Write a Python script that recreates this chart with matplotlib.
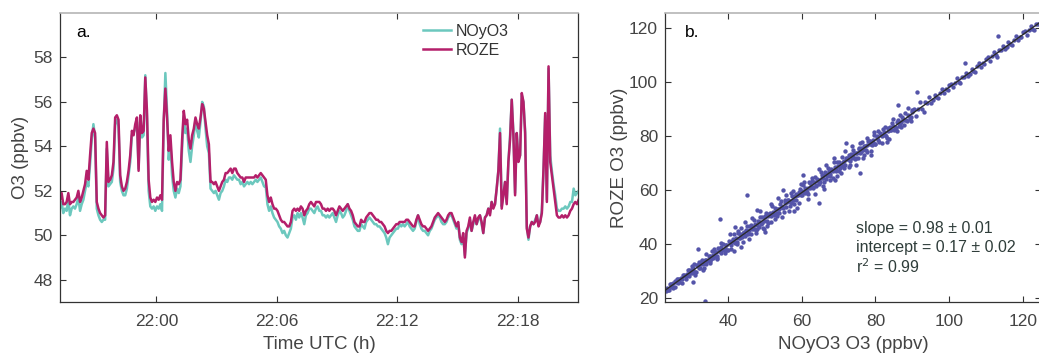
import matplotlib
matplotlib.use('Agg')
import matplotlib.pyplot as plt
import numpy as np

plt.rcParams['font.family'] = ['Liberation Sans', 'DejaVu Sans']

# a. time series, one sample every 5 s from 21:55:12 UTC (minutes relative to 22:00)
t_start_min = -4.8
dt_sec = 5

roze = [51.6, 51.9, 51.4, 51.4, 51.5, 51.9, 51.4, 51.5, 51.5, 51.6,
        51.7, 52.0, 51.5, 51.7, 52.0, 52.3, 52.9, 52.5, 53.6, 54.6,
        54.8, 54.6, 51.5, 51.2, 51.0, 50.9, 50.8, 50.9, 54.2, 52.4,
        52.5, 52.7, 53.3, 55.3, 55.4, 55.2, 52.7, 52.2, 52.0, 52.1,
        52.4, 52.9, 53.6, 54.7, 54.5, 55.0, 55.3, 52.9, 55.4, 54.6,
        54.7, 57.1, 55.6, 52.5, 51.7, 51.5, 51.6, 51.5, 51.7, 51.6,
        51.8, 51.6, 55.2, 56.6, 55.3, 53.8, 54.5, 53.3, 52.4, 52.0,
        52.4, 52.3, 52.5, 54.3, 55.6, 55.0, 55.2, 54.3, 53.9, 54.5,
        54.8, 55.3, 55.0, 54.8, 55.3, 55.9, 55.7, 55.1, 54.5, 54.1,
        52.4, 52.4, 52.3, 52.4, 52.2, 52.0, 52.2, 52.4, 52.5, 52.8,
        52.8, 52.9, 53.0, 52.8, 53.0, 53.0, 52.8, 52.7, 52.6, 52.6,
        52.4, 52.6, 52.6, 52.6, 52.6, 52.6, 52.6, 52.7, 52.6, 52.7,
        52.8, 52.7, 52.6, 52.5, 51.8, 51.5, 51.7, 51.4, 51.2, 51.2,
        51.1, 50.9, 50.7, 50.6, 50.6, 50.5, 50.4, 50.4, 50.6, 51.1,
        51.2, 51.1, 51.2, 51.1, 51.3, 51.2, 50.9, 51.1, 51.2, 51.4,
        51.5, 51.4, 51.3, 51.5, 51.5, 51.5, 51.4, 51.2, 51.2, 51.1,
        51.2, 51.1, 51.2, 51.2, 51.1, 50.9, 51.1, 51.3, 51.2, 51.1,
        51.2, 51.3, 51.4, 51.2, 51.1, 50.9, 50.6, 50.5, 50.4, 50.4,
        50.7, 50.6, 50.6, 50.8, 50.9, 51.0, 51.0, 50.9, 50.8, 50.7,
        50.7, 50.6, 50.6, 50.5, 50.4, 50.2, 50.1, 50.2, 50.2, 50.3,
        50.4, 50.5, 50.5, 50.6, 50.6, 50.6, 50.6, 50.7, 50.7, 50.6,
        50.5, 50.4, 50.4, 50.7, 50.9, 50.7, 50.5, 50.4, 50.4, 50.3,
        50.2, 50.3, 50.4, 50.6, 50.8, 50.9, 51.0, 50.9, 50.8, 50.7,
        50.6, 50.7, 50.9, 51.0, 51.0, 50.8, 50.6, 50.4, 50.6, 49.9,
        49.7, 50.1, 49.0, 50.2, 50.4, 50.8, 50.2, 50.6, 50.9, 50.5,
        50.8, 50.9, 50.6, 50.1, 50.8, 50.9, 51.2, 50.9, 51.5, 51.2,
        51.4, 52.1, 52.9, 54.6, 51.2, 51.8, 52.4, 51.4, 53.3, 54.3,
        56.1, 54.5, 51.8, 54.6, 53.3, 53.6, 56.4, 56.0, 54.6, 50.3,
        49.9, 50.4, 50.6, 50.5, 50.6, 50.9, 50.4, 50.6, 51.0, 53.0,
        55.5, 51.5, 57.6, 53.3, 52.7, 52.1, 51.5, 50.9, 50.8, 50.8,
        50.9, 50.8, 50.9, 50.8, 50.9, 51.1, 51.2, 51.4, 51.5, 51.4,
        51.6]

noyo3 = [51.2, 51.5, 51.0, 51.2, 51.1, 51.6, 50.9, 51.2, 51.3, 51.2,
         51.4, 51.7, 51.1, 51.4, 51.6, 52.0, 52.4, 52.2, 53.2, 54.3,
         55.0, 54.4, 51.2, 50.9, 50.7, 50.6, 50.7, 50.7, 53.9, 52.2,
         52.3, 52.4, 53.0, 55.0, 55.2, 54.9, 52.4, 52.0, 51.8, 51.8,
         52.1, 52.7, 53.3, 54.5, 54.6, 54.8, 55.1, 53.0, 55.2, 54.4,
         54.5, 57.2, 55.3, 52.0, 51.3, 51.2, 51.3, 51.1, 51.3, 51.2,
         51.4, 51.1, 55.0, 57.3, 55.6, 53.4, 54.2, 52.7, 52.0, 51.7,
         52.1, 51.9, 52.2, 53.9, 55.4, 54.6, 54.8, 53.8, 53.3, 54.0,
         54.5, 55.2, 54.7, 54.4, 55.1, 56.0, 55.8, 54.8, 54.0, 53.7,
         52.1, 52.0, 51.9, 52.0, 51.8, 51.6, 51.9, 52.0, 52.2, 52.5,
         52.4, 52.6, 52.6, 52.5, 52.7, 52.6, 52.5, 52.5, 52.3, 52.4,
         52.2, 52.3, 52.4, 52.3, 52.4, 52.3, 52.4, 52.5, 52.4, 52.5,
         52.6, 52.4, 52.2, 52.2, 51.4, 51.1, 51.3, 51.0, 50.8, 50.7,
         50.6, 50.4, 50.3, 50.1, 50.2, 50.0, 49.9, 50.1, 50.3, 50.8,
         50.9, 50.7, 51.0, 50.8, 51.0, 50.8, 50.5, 50.9, 51.0, 51.2,
         51.2, 51.1, 51.0, 51.2, 51.3, 51.1, 51.1, 50.9, 50.9, 50.8,
         50.9, 50.8, 50.9, 51.0, 50.8, 50.6, 50.9, 51.1, 51.0, 50.8,
         50.9, 51.1, 51.4, 51.1, 50.9, 50.7, 50.4, 50.3, 50.2, 50.2,
         50.5, 50.4, 50.3, 50.6, 50.7, 50.8, 50.7, 50.6, 50.5, 50.5,
         50.4, 50.4, 50.3, 50.2, 50.1, 49.9, 49.6, 49.9, 50.0, 50.1,
         50.2, 50.3, 50.3, 50.5, 50.4, 50.5, 50.4, 50.5, 50.6, 50.4,
         50.3, 50.2, 50.3, 50.6, 50.9, 50.5, 50.3, 50.2, 50.2, 50.1,
         50.0, 50.2, 50.3, 50.5, 50.7, 50.8, 50.9, 50.8, 50.6, 50.5,
         50.5, 50.6, 50.8, 50.9, 50.9, 50.7, 50.5, 50.3, 50.5, 49.8,
         49.6, 50.0, 49.1, 50.1, 50.3, 50.7, 50.2, 50.5, 50.8, 50.5,
         50.7, 50.9, 50.5, 50.1, 50.8, 50.9, 51.2, 51.0, 51.5, 51.3,
         51.4, 52.1, 52.9, 54.8, 51.3, 51.8, 52.4, 51.5, 53.3, 54.5,
         56.1, 54.6, 51.9, 54.6, 53.4, 53.6, 56.3, 56.0, 54.7, 50.4,
         49.8, 50.4, 50.6, 50.5, 50.7, 50.9, 50.5, 50.6, 51.1, 53.0,
         55.4, 51.6, 57.5, 53.6, 52.9, 52.3, 51.8, 51.2, 51.1, 51.1,
         51.2, 51.2, 51.3, 51.2, 51.3, 51.5, 51.5, 52.1, 51.8, 51.9,
         52.0]

time_ticks = [0, 6, 12, 18]
time_tick_labels = ['22:00', '22:06', '22:12', '22:18']

# b. scatter, NOyO3 vs ROZE
scatter_noyo3 = [
    23.2, 23.6, 24.1, 24.5, 24.9, 25.3, 25.8, 26.2, 26.6, 27.1, 27.5, 27.9, 28.3, 28.8,
    29.2, 29.6, 30.1, 30.5, 30.9, 31.4, 31.8, 32.2, 32.7, 33.1, 33.5, 34.0, 34.4, 34.8,
    35.3, 35.7, 36.1, 36.6, 37.0, 37.4, 37.9, 38.3, 38.7, 39.2, 39.6, 40.0,
    23.4, 23.9, 24.3, 24.7, 25.1, 25.6, 26.0, 26.4, 26.9, 27.3, 27.7, 28.1, 28.6, 29.0,
    29.4, 29.9, 30.3, 30.7, 31.2, 31.6, 32.0, 32.5, 32.9, 33.3, 33.8, 34.2, 34.6, 35.1,
    35.5, 35.9, 36.4, 36.8, 37.2, 37.7, 38.1, 38.5, 39.0, 39.4, 39.8,
    40.4, 40.8, 41.2, 41.6, 42.0, 42.4, 42.8, 43.2, 43.6, 44.0, 44.4, 44.8, 45.2, 45.6,
    46.0, 46.4, 46.8, 47.2, 47.6, 48.0, 48.4, 48.8, 49.2, 49.6, 50.0, 50.4, 50.8, 51.2,
    51.6, 52.0, 52.4, 52.8, 53.2, 53.6, 54.0, 54.4, 54.8, 55.2, 55.6, 56.0, 56.4, 56.8,
    57.2, 57.6, 58.0, 58.4, 58.8, 59.2, 59.6, 60.0, 60.4, 60.8, 61.2, 61.6, 62.0, 62.4,
    62.8, 63.2, 63.6, 64.0, 64.4, 64.8, 65.2, 65.6, 66.0, 66.4, 66.8, 67.2, 67.6, 68.0,
    68.4, 68.8, 69.2, 69.6, 70.0, 70.4, 70.8, 71.2, 71.6, 72.0, 72.4, 72.8, 73.2, 73.6,
    74.0, 74.4, 74.8, 75.2, 75.6, 76.0, 76.4, 76.8, 77.2, 77.6, 78.0, 78.4, 78.8, 79.2,
    79.6, 80.0,
    40.6, 41.0, 41.4, 41.8, 42.2, 42.6, 43.0, 43.4, 43.8, 44.2, 44.6, 45.0, 45.4, 45.8,
    46.2, 46.6, 47.0, 47.4, 47.8, 48.2, 48.6, 49.0, 49.4, 49.8, 50.2, 50.6, 51.0, 51.4,
    51.8, 52.2, 52.6, 53.0, 53.4, 53.8, 54.2, 54.6, 55.0, 55.4, 55.8, 56.2, 56.6, 57.0,
    57.4, 57.8, 58.2, 58.6, 59.0, 59.4, 59.8, 60.2, 60.6, 61.0, 61.4, 61.8, 62.2, 62.6,
    63.0, 63.4, 63.8, 64.2, 64.6, 65.0, 65.4, 65.8, 66.2, 66.6, 67.0, 67.4, 67.8, 68.2,
    68.6, 69.0, 69.4, 69.8, 70.2, 70.6, 71.0, 71.4, 71.8, 72.2, 72.6, 73.0, 73.4, 73.8,
    74.2, 74.6, 75.0, 75.4, 75.8, 76.2, 76.6, 77.0, 77.4, 77.8, 78.2, 78.6, 79.0, 79.4,
    79.8,
    80.5, 81.0, 81.5, 82.0, 82.5, 83.0, 83.5, 84.0, 84.5, 85.0, 85.5, 86.0, 86.5, 87.0,
    87.5, 88.0, 88.5, 89.0, 89.5, 90.0, 90.5, 91.0, 91.5, 92.0, 92.5, 93.0, 93.5, 94.0,
    94.5, 95.0, 95.5, 96.0, 96.5, 97.0, 97.5, 98.0, 98.5, 99.0, 99.5, 100.0, 100.5, 101.0,
    101.5, 102.0, 102.5, 103.0, 103.5, 104.0, 104.5, 105.0, 105.5, 106.0, 106.5, 107.0,
    107.5, 108.0, 108.5, 109.0, 109.5, 110.0, 110.5, 111.0, 111.5, 112.0, 112.5, 113.0,
    113.5, 114.0, 114.5, 115.0, 115.5, 116.0, 116.5, 117.0, 117.5, 118.0, 118.5, 119.0,
    119.5, 120.0, 120.5, 121.0, 121.5, 122.0, 122.5, 123.0, 123.5, 124.0,
    80.3, 80.8, 81.3, 81.8, 82.3, 82.8, 83.3, 83.8, 84.3, 84.8, 85.3, 85.8, 86.3, 86.8,
    87.3, 87.8, 88.3, 88.8, 89.3, 89.8,
    30.2, 31.2, 32.2, 33.2, 34.2, 35.2, 36.2, 37.2, 38.2, 39.2,
    40.7, 41.7, 42.7, 43.7, 44.7, 45.7, 46.7, 47.7, 48.7, 49.7, 50.7, 51.7, 52.7, 53.7,
    54.7, 55.7, 56.7, 57.7, 58.7, 59.7, 60.7, 61.7, 62.7, 63.7, 64.7, 65.7, 66.7, 67.7,
    68.7, 69.7, 70.7, 71.7, 72.7, 73.7, 74.7, 75.7, 76.7, 77.7, 78.7, 79.7, 80.7, 81.7,
    82.7, 83.7, 84.7, 85.7, 86.7, 87.7, 88.7, 89.7,
    45.1, 37.9, 75.9, 64.6, 33.9, 91.2, 104.3, 113.3, 32.0, 30.5, 55.0, 50.0, 60.5,
    66.0, 72.0, 83.0, 58.0, 42.0, 48.0, 69.0, 86.0]

scatter_roze = [
    22.3, 23.7, 22.7, 25.1, 24.4, 23.6, 26.2, 27.1, 25.3, 26.8, 25.4, 28.5, 28.2, 27.9,
    30.4, 28.0, 30.3, 29.8, 32.4, 29.4, 32.1, 30.9, 32.4, 34.0, 31.1, 34.0, 33.8, 35.4,
    33.5, 37.2, 34.9, 36.9, 34.3, 38.3, 37.3, 36.7, 39.9, 38.2, 39.6, 37.8,
    23.4, 22.7, 25.2, 24.0, 25.5, 24.0, 25.7, 27.0, 25.9, 27.4, 26.8, 28.5, 27.1, 28.8,
    30.4, 29.3, 29.1, 30.9, 29.4, 32.0, 31.8, 31.1, 33.6, 32.4, 34.0, 32.4, 34.1, 35.6,
    34.4, 35.9, 35.3, 37.0, 35.5, 37.3, 38.9, 37.7, 37.6, 39.4, 37.8,
    41.0, 37.9, 40.9, 43.5, 40.4, 39.9, 44.0, 42.2, 45.8, 40.6, 44.5, 42.9, 46.7, 44.3,
    46.8, 43.6, 46.1, 48.8, 45.3, 47.1, 46.2, 50.1, 47.9, 46.0, 50.2, 51.3, 47.8, 51.0,
    48.2, 53.9, 50.8, 53.2, 50.4, 52.9, 51.5, 55.8, 53.5, 51.7, 56.1, 55.6, 56.3, 54.2,
    58.9, 56.4, 54.6, 58.5, 58.1, 55.3, 60.4, 58.2, 61.9, 58.7, 60.2, 58.4, 62.9, 60.8,
    63.3, 60.8, 64.7, 62.0, 63.2, 62.2, 66.5, 64.6, 62.9, 66.7, 65.0, 68.2, 65.2, 67.6,
    64.5, 70.5, 67.7, 70.3, 67.0, 68.3, 72.2, 70.4, 68.0, 71.9, 71.6, 72.9, 69.3, 71.9,
    75.0, 71.5, 73.7, 72.0, 75.6, 74.0, 77.8, 72.9, 76.4, 74.0, 78.3, 78.0, 74.6, 77.3,
    80.3, 77.2,
    40.3, 39.5, 41.9, 40.7, 42.2, 40.6, 42.3, 43.7, 42.5, 44.0, 43.4, 45.1, 43.6, 45.3,
    46.9, 45.6, 45.4, 47.2, 45.6, 48.3, 48.1, 47.3, 49.8, 48.6, 50.1, 48.5, 50.2, 51.5,
    50.3, 51.8, 51.2, 52.9, 51.4, 53.1, 54.7, 53.5, 53.3, 55.1, 53.5, 56.2, 55.9, 55.1,
    57.6, 56.4, 57.9, 56.3, 58.0, 59.4, 58.2, 59.7, 59.1, 60.8, 59.2, 60.9, 62.5, 61.3,
    61.1, 62.9, 61.3, 64.0, 63.8, 63.0, 65.5, 64.3, 65.8, 64.1, 65.8, 67.2, 66.0, 67.5,
    66.9, 68.6, 67.1, 68.8, 70.4, 69.2, 69.0, 70.7, 69.1, 71.8, 71.6, 70.8, 73.3, 72.1,
    73.6, 72.0, 73.7, 75.1, 73.9, 75.4, 74.7, 76.4, 74.9, 76.6, 78.2, 77.0, 76.8, 78.6,
    77.0,
    80.2, 77.8, 80.4, 82.7, 80.3, 79.2, 82.9, 82.3, 84.7, 82.3, 83.1, 86.0, 84.6, 83.5,
    86.5, 88.4, 85.5, 87.5, 86.9, 89.6, 90.0, 87.6, 90.2, 92.5, 90.1, 89.0, 92.7, 92.1,
    94.5, 92.1, 93.3, 95.2, 94.5, 94.1, 96.1, 97.4, 95.9, 97.3, 97.1, 98.9, 99.4, 98.1,
    99.8, 101.4, 100.2, 99.7, 102.1, 102.0, 103.6, 102.4, 103.1, 105.0, 104.3, 103.9,
    105.9, 107.2, 105.7, 107.1, 106.9, 108.7, 109.2, 107.9, 109.6, 111.2, 110.0, 109.5,
    111.9, 111.8, 113.4, 112.2, 112.9, 114.8, 114.1, 113.7, 115.7, 117.0, 115.5, 116.9,
    116.7, 118.5, 119.0, 117.7, 119.4, 121.0, 119.8, 119.3, 121.7, 121.6,
    79.2, 78.5, 81.0, 79.9, 81.5, 80.0, 81.8, 83.3, 82.2, 83.8, 83.3, 85.1, 83.6, 85.4,
    87.1, 86.0, 85.9, 87.8, 86.3, 89.1,
    31.8, 28.5, 33.4, 30.2, 36.1, 32.8, 37.9, 34.9, 40.2, 36.5,
    43.5, 37.2, 44.9, 38.8, 48.0, 41.9, 49.6, 44.1, 52.3, 45.4, 46.6, 54.7, 49.1, 56.9,
    49.8, 58.0, 52.1, 59.6, 53.4, 62.1, 63.1, 56.8, 64.5, 58.4, 67.6, 61.5, 69.2, 63.7,
    71.9, 65.0, 66.2, 74.3, 68.7, 76.5, 69.4, 77.6, 71.7, 79.2, 73.0, 81.7, 81.9, 77.3,
    83.4, 79.0, 86.2, 81.9, 87.9, 84.0, 90.4, 85.5,
    58.0, 49.3, 66.3, 55.2, 18.8, 96.5, 107.3, 117.0, 38.0, 25.8, 59.8, 44.5, 65.5,
    60.5, 77.5, 77.8, 52.0, 46.3, 52.5, 63.8, 91.5]

fit_slope = 0.98
fit_intercept = 0.17
stats_text = ['slope = 0.98 \u00b1 0.01', 'intercept = 0.17 \u00b1 0.02', 'r$^2$ = 0.99']

c_noyo3 = '#6cc8be'
c_roze = '#b41f6a'
c_scatter = '#5454a9'
tick_col = '#444444'

fig = plt.figure(figsize=(10.39, 3.55), dpi=100)
ax1 = fig.add_axes([0.0577, 0.1493, 0.4986, 0.8141])
ax2 = fig.add_axes([0.6400, 0.1493, 0.3619, 0.8141])

t = t_start_min + np.arange(len(roze)) * dt_sec / 60.0
ax1.plot(t, noyo3, color=c_noyo3, lw=1.8, label='NOyO3')
ax1.plot(t, roze, color=c_roze, lw=1.8, label='ROZE')
ax1.set_xlim(-4.8, 21.0)
ax1.set_ylim(47.0, 60.0)
ax1.set_xticks(time_ticks)
ax1.set_xticklabels(time_tick_labels)
ax1.set_yticks([48, 50, 52, 54, 56, 58])
ax1.set_xlabel('Time UTC (h)', fontsize=13.5, color=tick_col, labelpad=5)
ax1.set_ylabel('O3 (ppbv)', fontsize=13.5, color=tick_col, labelpad=3)
ax1.text(0.031, 0.96, 'a.', transform=ax1.transAxes, fontsize=12.5, va='top', ha='left')
ax1.legend(loc='upper left', bbox_to_anchor=(0.674, 1.012), frameon=False, fontsize=11.5,
           handlelength=1.75, handletextpad=0.25, labelspacing=0.25, labelcolor='#333333')

xs = np.array(scatter_noyo3)
ax2.scatter(xs, scatter_roze, s=10, color=c_scatter, linewidths=0, zorder=2)
xl = np.array([23.0, 124.8])
ax2.plot(xl, fit_slope * xl + fit_intercept, color='#2a2a2a', lw=1.0, zorder=3)
ax2.set_xlim(23.0, 124.8)
ax2.set_ylim(18.4, 125.7)
ax2.set_xticks([40, 60, 80, 100, 120])
ax2.set_yticks([20, 40, 60, 80, 100, 120])
ax2.set_xlabel('NOyO3 O3 (ppbv)', fontsize=13.5, color=tick_col, labelpad=5)
ax2.set_ylabel('ROZE O3 (ppbv)', fontsize=13.5, color=tick_col, labelpad=1)
ax2.text(0.053, 0.96, 'b.', transform=ax2.transAxes, fontsize=12.5, va='top', ha='left')
for i, s in enumerate(stats_text):
    ax2.text(0.508, 0.256 - i * 0.066, s, transform=ax2.transAxes, fontsize=11.5,
             color='#2f3d3a', va='center', ha='left')

for ax in (ax1, ax2):
    ax.tick_params(direction='in', top=True, right=True, length=4, width=0.8,
                   labelsize=12.5, labelcolor=tick_col, color='#333333')
    ax.tick_params(axis='x', pad=9)
    ax.tick_params(axis='y', pad=5)
    for side in ('left', 'bottom', 'right'):
        ax.spines[side].set_color('#333333')
        ax.spines[side].set_linewidth(0.9)
    ax.spines['top'].set_color('#b5b5b5')
    ax.spines['top'].set_linewidth(1.2)

fig.savefig('out.png', dpi=100)
